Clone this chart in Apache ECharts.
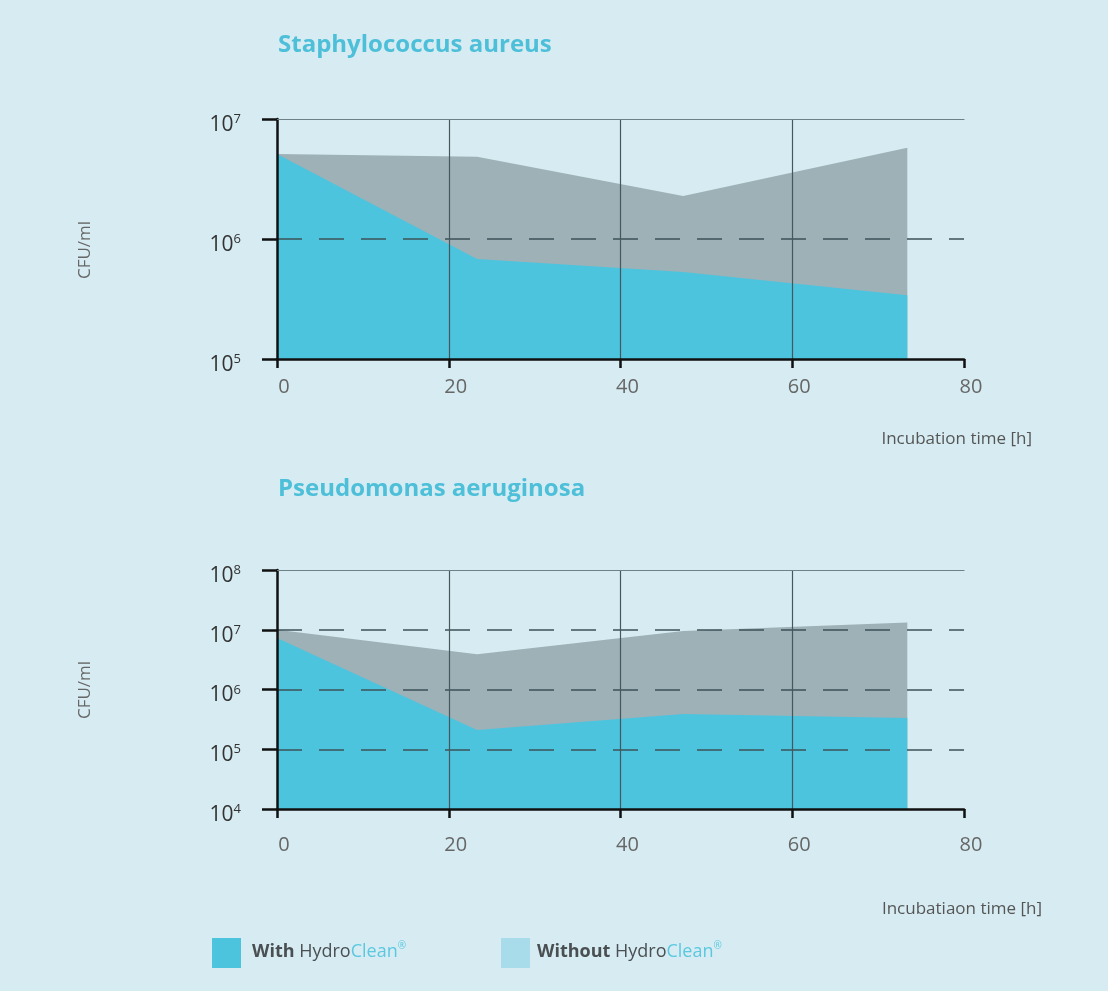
<!DOCTYPE html>
<html>
<head>
<meta charset="utf-8">
<script src="https://cdn.jsdelivr.net/npm/echarts@6/dist/echarts.min.js"></script>
<style>
html,body{margin:0;padding:0;background:#d6ecf2;}
#c{width:1108px;height:991px;}
</style>
</head>
<body>
<div id="c"></div>
<script>
// ---- data ----
var hours = [0, 23.3, 47.3, 73.4];
var xTicks = [0, 20, 40, 60, 80];
var saWith = [5.1e6, 6.8e5, 5.3e5, 3.4e5];
var saWithout = [5.1e6, 4.85e6, 2.28e6, 5.77e6];
var paWith = [7.3e6, 2.1e5, 3.9e5, 3.33e5];
var paWithout = [1.0e7, 3.9e6, 9.5e6, 1.32e7];
var titles = ['Staphylococcus aureus', 'Pseudomonas aeruginosa'];
var xNames = ['Incubation time [h]', 'Incubatiaon time [h]'];
var yName = 'CFU/ml';
var legendNames = ['With', 'Without'];

var CYAN = '#4cc4de', GRAY = '#9eb1b7', LEG2 = '#a9dcea', TITLE = '#4dbfd8';
var FONT = '"Open Sans", "Noto Sans", sans-serif';

function pairs(xs, ys) { return xs.map(function (x, i) { return [x, ys[i]]; }); }

function xAxisMain(gi, margin) {
  return {
    type: 'value', gridIndex: gi, min: 0, max: 80, interval: 20, position: 'bottom', z: 4,
    axisLine: { show: true, onZero: false, lineStyle: { color: '#111', width: 2.5 } },
    axisTick: { show: true, inside: false, length: 9, lineStyle: { color: '#111', width: 2.5 } },
    axisLabel: { color: '#666', fontSize: 20, fontFamily: FONT, margin: margin, padding: [0, 0, 0, 14] },
    splitLine: { show: true, showMinLine: false, showMaxLine: false, lineStyle: { color: '#46575d', width: 1.2 } }
  };
}
function xAxisTop(gi) {
  return {
    type: 'value', gridIndex: gi, min: 0, max: 80, interval: 20, position: 'top', z: 4,
    axisLine: { show: true, onZero: false, lineStyle: { color: '#6f8188', width: 1.2 } },
    axisTick: { show: false }, axisLabel: { show: false }, splitLine: { show: false }
  };
}
function yAxis(gi, min, max) {
  return {
    type: 'log', logBase: 10, gridIndex: gi, min: min, max: max, z: 4,
    axisLine: { show: true, lineStyle: { color: '#111', width: 2.5 } },
    axisTick: { show: true, inside: false, length: 15, lineStyle: { color: '#111', width: 2.5 } },
    axisLabel: {
      margin: 36, padding: [12, 0, 0, 0],
      formatter: function (v) {
        var e = Math.round(Math.log10(v));
        return '{b|10}{s|' + e + '}';
      },
      rich: {
        b: { fontSize: 21, color: '#333', fontFamily: FONT, lineHeight: 24 },
        s: { fontSize: 13, color: '#333', fontFamily: FONT, verticalAlign: 'top', lineHeight: 10 }
      }
    },
    splitLine: { show: true, showMinLine: false, showMaxLine: false,
      lineStyle: { color: '#3d5158', width: 1.5, type: [25, 17] } }
  };
}
function area(name, xi, yi, data, color, z) {
  return {
    name: name, type: 'line', xAxisIndex: xi, yAxisIndex: yi, data: data,
    showSymbol: false, symbol: 'none', z: z, silent: true,
    lineStyle: { width: 0, opacity: 0 },
    areaStyle: { color: color, opacity: 1, origin: 'start' }
  };
}

function txt(x, y, text, style) {
  return { type: 'text', left: x, top: y, style: Object.assign({ text: text, fontFamily: FONT }, style) };
}
function legendText(x, name) {
  var rich = {
    w: { fontSize: 18, fontWeight: 'bold', fill: '#4a4f52', fontFamily: FONT, lineHeight: 22 },
    h: { fontSize: 18, fill: '#4a4f52', fontFamily: FONT, lineHeight: 22 },
    c: { fontSize: 18, fill: '#5cc8e0', fontFamily: FONT, lineHeight: 22 },
    r: { fontSize: 10, fill: '#5cc8e0', fontFamily: FONT, verticalAlign: 'top', lineHeight: 10 }
  };
  return { type: 'text', x: x, y: 952, style: {
    text: '{w|' + name + '}{h| Hydro}{c|Clean}{r|®}', verticalAlign: 'middle', rich: rich } };
}

var option = {
  backgroundColor: '#d6ecf2',
  animation: false,
  grid: [
    { left: 277, right: 144, top: 119, height: 240 },
    { left: 277, right: 144, top: 570, height: 239 }
  ],
  xAxis: [xAxisMain(0, 18), xAxisTop(0), xAxisMain(1, 26), xAxisTop(1)],
  yAxis: [yAxis(0, 1e5, 1e7), yAxis(1, 1e4, 1e8)],
  series: [
    area(legendNames[1], 0, 0, pairs(hours, saWithout), GRAY, 1),
    area(legendNames[0], 0, 0, pairs(hours, saWith), CYAN, 2),
    area(legendNames[1], 2, 1, pairs(hours, paWithout), GRAY, 1),
    area(legendNames[0], 2, 1, pairs(hours, paWith), CYAN, 2)
  ],
  graphic: [
    txt(278, 33, titles[0], { fill: TITLE, fontSize: 24, fontWeight: 'bold' }),
    txt(278, 477, titles[1], { fill: TITLE, fontSize: 24, fontWeight: 'bold' }),
    { type: 'text', x: 1032, y: 439, style: { text: xNames[0], fill: '#555', fontSize: 17, fontFamily: FONT, align: 'right', verticalAlign: 'middle' } },
    { type: 'text', x: 1042, y: 909, style: { text: xNames[1], fill: '#555', fontSize: 17, fontFamily: FONT, align: 'right', verticalAlign: 'middle' } },
    { type: 'text', x: 85, y: 250, rotation: Math.PI / 2, style: { text: yName, fill: '#666', fontSize: 17, fontFamily: FONT, align: 'center', verticalAlign: 'middle' } },
    { type: 'text', x: 85, y: 690, rotation: Math.PI / 2, style: { text: yName, fill: '#666', fontSize: 17, fontFamily: FONT, align: 'center', verticalAlign: 'middle' } },
    { type: 'rect', shape: { x: 212, y: 938, width: 29, height: 30 }, style: { fill: CYAN } },
    { type: 'rect', shape: { x: 501, y: 938, width: 29, height: 30 }, style: { fill: LEG2 } },
    legendText(252, legendNames[0]),
    legendText(537, legendNames[1])
  ]
};
var chart = echarts.init(document.getElementById('c'));
chart.setOption(option);
</script>
</body>
</html>
